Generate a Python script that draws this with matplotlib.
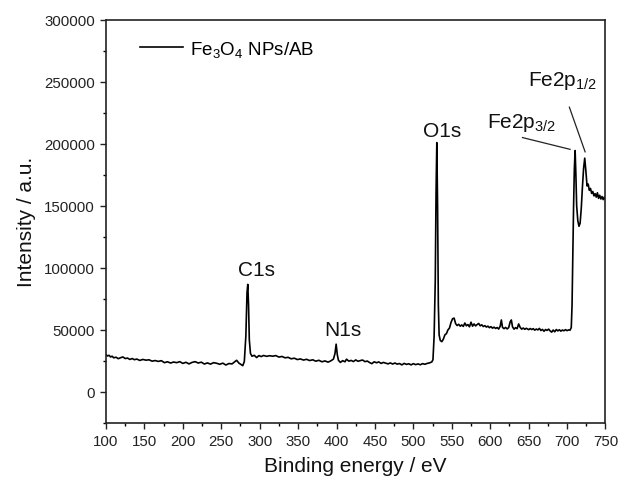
import matplotlib as mpl
mpl.use('Agg')
import matplotlib.pyplot as plt
from matplotlib.ticker import MultipleLocator

plt.rcParams['font.family'] = ['Liberation Sans', 'DejaVu Sans']
plt.rcParams['mathtext.fontset'] = 'custom'
plt.rcParams['mathtext.rm'] = 'Liberation Sans'
plt.rcParams['mathtext.it'] = 'Liberation Sans'

# XPS survey spectrum
energy = [100, 102, 104, 106, 108, 110, 113, 116, 119, 122, 125, 128, 131, 134, 137, 140,
          144, 148, 152, 156, 160, 164, 168, 172, 176, 180, 184, 188, 192, 196, 200, 204,
          208, 212, 216, 220, 224, 228, 232, 236, 240, 244, 248, 252, 256, 260, 264, 267,
          270, 273, 276, 278, 280, 282, 283.5, 284.5, 285.5, 286.5, 288, 290, 293, 296,
          299, 302, 305, 309, 313, 317, 321, 325, 329, 333, 337, 341, 345, 349, 353, 357,
          361, 365, 369, 373, 377, 381, 385, 389, 393, 396, 398, 399.5, 401, 402.5, 405,
          408, 411, 413, 416, 419, 422, 425, 428, 431, 434, 437, 440, 443, 446, 449, 452,
          455, 458, 461, 464, 467, 470, 473, 476, 479, 482, 485, 488, 491, 494, 497, 500,
          503, 506, 509, 512, 515, 518, 521, 524, 525.5, 527, 528.5, 529.5, 530.5, 531.5,
          532.5, 533.5, 535, 537, 539, 541, 543, 545, 547, 549, 551, 553, 555, 557, 559,
          561, 563, 565, 567, 569, 571, 573, 575, 577, 579, 581, 583, 585, 587, 589, 591,
          593, 595, 597, 599, 601, 603, 605, 607, 609, 611, 613, 614.5, 616, 618, 620, 622,
          624, 626, 627.5, 629, 631, 633, 635, 637, 639, 641, 643, 645, 647, 650, 652, 654,
          656, 658, 660, 662, 664, 666, 668, 670, 672, 674, 676, 678, 680, 682, 684, 686,
          688, 690, 692, 694, 696, 698, 700, 702, 704, 705.5, 706.5, 707.5, 708.5, 709.5,
          710.5, 711.5, 712.5, 714, 715.5, 717, 718.5, 720, 721.5, 723, 724.5, 726, 727.5,
          729, 730.5, 732, 733.5, 735, 736.5, 738, 739.5, 741, 742.5, 744, 745.5, 747,
          748.5, 750]
intensity = [30000, 29000, 29500, 28200, 28800, 27500, 28000, 26800, 27600, 28200, 26900,
             27300, 26200, 26900, 26000, 26500, 25400, 26200, 25600, 25900, 24800, 25300,
             24600, 25200, 23600, 24300, 23300, 24100, 23600, 24400, 23000, 23900, 22600,
             23800, 24400, 23300, 24000, 22500, 23400, 22400, 23600, 23100, 22300, 23200,
             21700, 22900, 22600, 24000, 25500, 23200, 22000, 21200, 24500, 45000, 80000,
             86700, 70000, 42000, 31000, 28800, 29500, 27700, 29300, 28500, 29400, 28700,
             29200, 28800, 29300, 28100, 28600, 27500, 27900, 26700, 27200, 26100, 26600,
             25700, 26300, 25300, 25900, 24800, 25500, 24300, 25000, 24000, 25200, 26500,
             31000, 38500, 30000, 25500, 23800, 25200, 24300, 26400, 24800, 25400, 24500,
             25800, 24700, 25300, 25700, 24400, 24900, 23700, 22800, 24300, 23500, 24200,
             23000, 23800, 23200, 22600, 23400, 22500, 23300, 22400, 22900, 21800, 23000,
             22200, 22700, 21800, 22800, 22000, 22600, 21900, 22800, 22300, 23000, 23400,
             24200, 26000, 45000, 90000, 160000, 200900, 150000, 70000, 46000, 41500, 40500,
             42500, 46000, 47000, 50000, 51500, 56000, 59000, 59500, 55000, 53500, 54500,
             53000, 54000, 52800, 55500, 53300, 54300, 52500, 56200, 53000, 54800, 53200,
             54300, 55200, 53300, 54100, 52700, 53400, 52300, 53000, 51800, 52600, 51400,
             52200, 51200, 51900, 50700, 53000, 58000, 52000, 51000, 52000, 50800, 51800,
             56500, 58000, 52500, 50600, 51800, 51000, 54800, 52000, 50600, 51500, 50500,
             51300, 50200, 51100, 50300, 51000, 49800, 50700, 50000, 51200, 49500, 50400,
             48900, 50300, 49600, 50600, 49200, 48200, 49900, 48500, 50300, 49200, 50100,
             49000, 49900, 49300, 50200, 49400, 50000, 49800, 52000, 70000, 110000, 150000,
             180000, 194500, 175000, 150000, 138000, 133500, 136000, 148000, 165000, 180000,
             188400, 178000, 166000, 167500, 162500, 164000, 160000, 161500, 158000, 159800,
             157000, 160500, 156000, 158500, 155500, 157500, 155000, 157000, 155500]

peak_labels = ['C1s', 'N1s', 'O1s', 'Fe2p$_{3/2}$', 'Fe2p$_{1/2}$']
label_x = [296, 408, 537, 596, 649]
label_y = [94000, 45700, 206000, 213500, 247000]
label_ha = ['center', 'center', 'center', 'left', 'left']

# pointer lines for the Fe2p labels
line_x = [[642, 704], [703, 723.5]]
line_y = [[205000, 195500], [229500, 193500]]

fig = plt.figure(figsize=(6.21, 4.89), dpi=100)
ax = fig.add_axes([0.1707, 0.133, 0.8043, 0.8247])

ax.plot(energy, intensity, color='black', lw=1.2, label='Fe$_3$O$_4$ NPs/AB')

for t, x, y, ha in zip(peak_labels, label_x, label_y, label_ha):
    ax.text(x, y, t, ha=ha, va='baseline', fontsize=15, color='#111111')
for lx, ly in zip(line_x, line_y):
    ax.plot(lx, ly, color='#222222', lw=0.9)

ax.set_xlim(100, 750)
ax.set_ylim(-25000, 300000)
ax.xaxis.set_major_locator(MultipleLocator(50))
ax.xaxis.set_minor_locator(MultipleLocator(25))
ax.yaxis.set_major_locator(MultipleLocator(50000))
ax.yaxis.set_minor_locator(MultipleLocator(25000))
ax.tick_params(which='major', direction='out', length=4.5, width=1, labelsize=10.8,
               colors='#222222', top=False, right=False)
ax.tick_params(which='minor', direction='out', length=2.5, width=1, top=False, right=False)
for s in ax.spines.values():
    s.set_linewidth(1.2)
    s.set_color('#222222')

ax.set_xlabel('Binding energy / eV', fontsize=15, color='#111111', labelpad=6)
ax.set_ylabel('Intensity / a.u.', fontsize=15, color='#111111', labelpad=6)

ax.legend(loc='upper left', bbox_to_anchor=(0.035, 0.995), frameon=False, fontsize=13.5,
          handlelength=2.3, handletextpad=0.35)

fig.savefig('out.png', dpi=100)
